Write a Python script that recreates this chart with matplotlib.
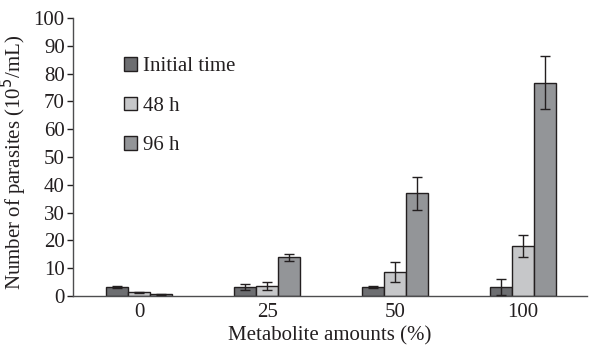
import numpy as np
import matplotlib.pyplot as plt

# Data
categories = ['0', '25', '50', '100']
series = ['Initial time', '48 h', '96 h']
initial = [3.1, 3.1, 3.1, 3.2]
initial_err = [0.4, 1.1, 0.4, 3.0]
h48 = [1.3, 3.7, 8.5, 18.1]
h48_err = [0.3, 1.5, 3.6, 4.0]
h96 = [0.6, 13.9, 36.9, 76.7]
h96_err = [0.1, 1.2, 6.0, 9.5]
colors = ['#6d6e71', '#c6c7c9', '#939598']

plt.rcParams['font.family'] = ['Liberation Serif', 'DejaVu Serif']
fs = 15

fig = plt.figure(figsize=(5.94, 3.5), dpi=100)
ax = fig.add_axes([73 / 594, 54 / 350, (587 - 73) / 594, (296 - 18) / 350])

x = np.arange(len(categories))
width = 0.172
edge = '#231f20'
for i, (vals, errs) in enumerate([(initial, initial_err), (h48, h48_err), (h96, h96_err)]):
    ax.bar(x + (i - 1) * width, vals, width, color=colors[i], edgecolor=edge,
           linewidth=1.0, label=series[i], zorder=2)
    ax.errorbar(x + (i - 1) * width, vals, yerr=errs, fmt='none', ecolor=edge,
                elinewidth=1.0, capsize=3.5, capthick=1.0, zorder=3)

ax.set_xlim(-0.52, 3.5)
ax.set_ylim(0, 100)
ax.set_yticks(range(0, 101, 10))
ax.set_xticks(x)
ax.set_xticklabels(categories)
ax.tick_params(axis='x', length=0, labelsize=fs, pad=5, colors='#231f20')
ax.tick_params(axis='y', length=4, width=1, labelsize=fs, pad=2, colors='#231f20')
for s in ['top', 'right']:
    ax.spines[s].set_visible(False)
for s in ['left', 'bottom']:
    ax.spines[s].set_color('#4d4d4f')
    ax.spines[s].set_linewidth(1.0)

ax.set_xlabel('Metabolite amounts (%)', fontsize=fs, color='#231f20', labelpad=3)
ax.set_ylabel('Number of parasites (10$^5$/mL)', fontsize=fs, color='#231f20')
ax.yaxis.set_label_coords(-0.085, 0.48)

ax.legend(loc='upper left', bbox_to_anchor=(124 / 594, 1 - 57 / 350),
          bbox_transform=fig.transFigure, frameon=False, borderpad=0,
          borderaxespad=0, handlelength=0.63, handleheight=0.63,
          handletextpad=0.3, labelspacing=0.98, fontsize=fs,
          labelcolor='#231f20')

fig.savefig('out.png', dpi=100)
